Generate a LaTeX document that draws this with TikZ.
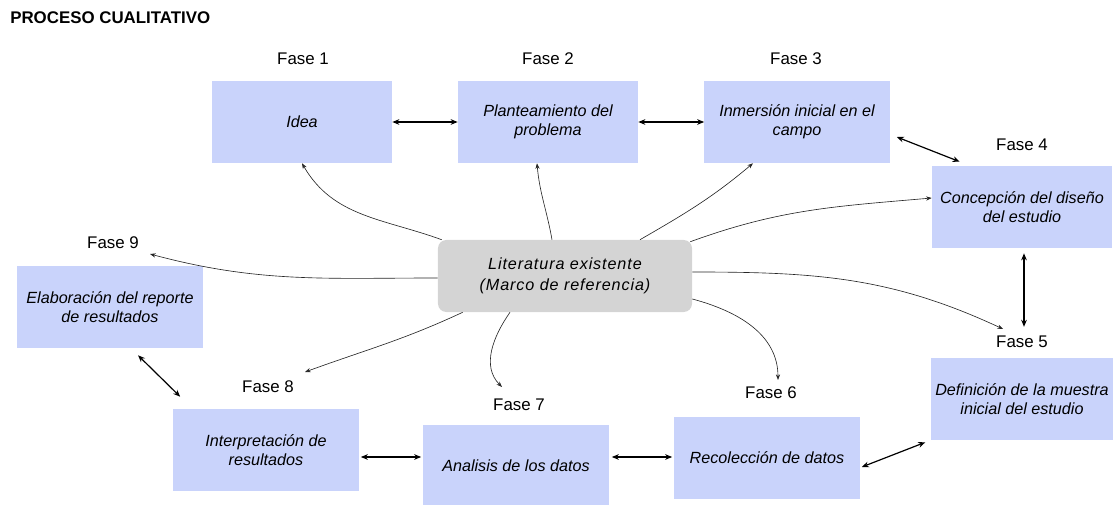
\documentclass[tikz,border=0pt]{standalone}
\usepackage{fontspec}
\setmainfont{Liberation Sans}
\newfontfamily\litfont[LetterSpace=5.5]{Liberation Sans}
\usetikzlibrary{arrows.meta}

\definecolor{faseblue}{HTML}{C9D3FB}
\definecolor{litgray}{HTML}{D4D4D4}

\tikzset{
  fase/.style={rectangle, fill=faseblue, minimum width=4.5cm, minimum height=2.05cm,
    align=center, font=\fontsize{11.5}{13.5}\selectfont\itshape},
  faselabel/.style={inner sep=0pt, font=\fontsize{12}{14}\selectfont},
  litbox/.style={rectangle, rounded corners=6pt, fill=litgray, minimum width=6.35cm,
    minimum height=1.8cm, align=center, font=\litfont\itshape\fontsize{11.5}{14.5}\selectfont},
  link/.style={<->, >={Stealth[length=5pt,width=4pt]}, line width=0.85pt},
  feed/.style={->, >={Stealth[length=4pt,width=3pt]}, line width=0.45pt, black!85},
}

\begin{document}
\begin{tikzpicture}[x=0.025cm, y=-0.025cm]
  \useasboundingbox (0,0) rectangle (1113,505);

  \node [anchor=west, inner sep=0pt, font=\bfseries\fontsize{12}{14}\selectfont] (title) at (10,18) {PROCESO CUALITATIVO};

  % fases
  \node [fase] (f1) at (302,122) {Idea};
  \node [fase] (f2) at (548,122) {Planteamiento del\\problema};
  \node [fase, minimum width=4.625cm] (f3) at (797,122) {Inmersión inicial en el\\campo};
  \node [fase] (f4) at (1022,207) {Concepción del diseño\\del estudio};
  \node [fase] (f5) at (1022,399) {Definición de la muestra\\inicial del estudio};
  \node [fase, minimum width=4.625cm] (f6) at (767,458) {Recolección de datos};
  \node [fase, minimum width=4.625cm] (f7) at (516,466) {Analisis de los datos};
  \node [fase, minimum width=4.625cm] (f8) at (266,450) {Interpretación de\\resultados};
  \node [fase, minimum width=4.625cm] (f9) at (110,307) {Elaboración del reporte\\de resultados};

  \node [faselabel] (l1) at (303,59) {Fase 1};
  \node [faselabel] (l2) at (548,59) {Fase 2};
  \node [faselabel] (l3) at (796,59) {Fase 3};
  \node [faselabel] (l4) at (1022,145) {Fase 4};
  \node [faselabel] (l5) at (1022,342) {Fase 5};
  \node [faselabel] (l6) at (771,393) {Fase 6};
  \node [faselabel] (l7) at (519,405) {Fase 7};
  \node [faselabel] (l8) at (268,387) {Fase 8};
  \node [faselabel] (l9) at (113,243) {Fase 9};

  \node [litbox] (lit) at (565,276) {Literatura existente\\(Marco de referencia)};

  % flechas entre fases
  \draw [link] (f1.east) -- (f2.west);
  \draw [link] (f2.east) -- (f3.west);
  \draw [link] ([shift={(7,15)}]f3.east) -- ([shift={(28,-4)}]f4.north west);
  \draw [link] ([shift={(2,5)}]f4.south) -- ([shift={(2,-9)}]l5.north);
  \draw [link] ([shift={(-5,2)}]f5.south west) -- ([shift={(2,9)}]f6.east);
  \draw [link] ([shift={(3,-9)}]f7.east) -- ([shift={(-2,-1)}]f6.west);
  \draw [link] ([shift={(2,7)}]f8.east) -- ([shift={(-2,-9)}]f7.west);
  \draw [link] ([shift={(28,7)}]f9.south) -- ([shift={(7,-12)}]f8.north west);

  % flechas desde la literatura
  \coordinate (e5) at (1003,329);
  \coordinate (e6) at (778,380);
  \coordinate (e7) at (502,387);
  \coordinate (e8) at (305,372);
  \coordinate (e9) at (150,254);

  \draw [feed] ([shift={(4,0)}]lit.north west) to[out=160, in=-60] (f1.south);
  \draw [feed] ([shift={(-13,0)}]lit.north) to[out=100, in=-85] ([shift={(-11,0)}]f2.south);
  \draw [feed] ([shift={(75,0)}]lit.north) to[out=30, in=-140] ([shift={(-44,0)}]f3.south);
  \draw [feed] ([shift={(-2,2)}]lit.north east) to[out=20, in=185] ([shift={(0,-9)}]f4.west);
  \draw [feed] ([shift={(0,-4)}]lit.east) to[out=0, in=155] (e5);
  \draw [feed] ([shift={(0,23)}]lit.east) to[out=-15, in=90] (e6);
  \draw [feed] ([shift={(-55,0)}]lit.south) to[out=-125, in=135] (e7);
  \draw [feed] ([shift={(25,0)}]lit.south west) to[out=-155, in=20] (e8);
  \draw [feed] ([shift={(0,2)}]lit.west) to[out=180, in=-15] (e9);
\end{tikzpicture}
\end{document}
